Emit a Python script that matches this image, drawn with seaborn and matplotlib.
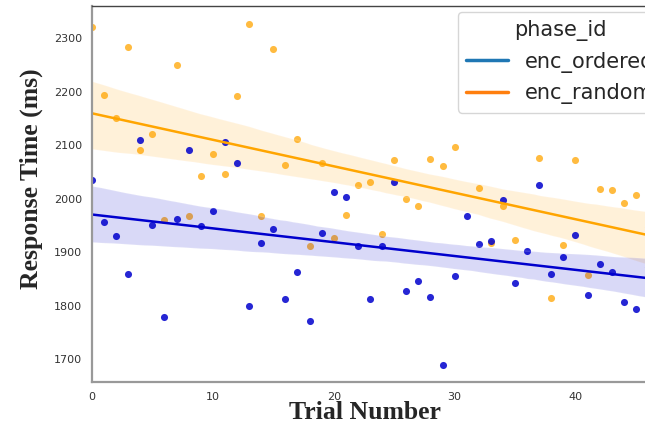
import numpy as np
import pandas as pd
import matplotlib
matplotlib.use('Agg')
import matplotlib.pyplot as plt
import seaborn as sns
from matplotlib.lines import Line2D

# trial numbers and response times
trials = list(range(47))
rt_ordered = [2035, 1957, 1930, 1859, 2109, 1951, 1779, 1962, 2091, 1950,
              1977, 2107, 2067, 1800, 1917, 1944, 1813, 1863, 1771, 1936,
              2013, 2003, 1911, 1813, 1912, 2032, 1827, 1846, 1816, 1689,
              1856, 1968, 1916, 1922, 1997, 1842, 1903, 2025, 1859, 1891,
              1932, 1821, 1879, 1864, 1808, 1795, 1872]
rt_random = [2320, 2193, 2150, 2284, 2091, 2121, 1960, 2250, 1967, 2043,
             2083, 2047, 2192, 2327, 1967, 2279, 2063, 2111, 1911, 2066,
             1926, 1970, 2025, 2031, 1935, 2073, 2000, 1986, 2074, 2062,
             2096, np.nan, 2021, 1918, 1986, 1923, np.nan, 2077, 1815, 1914,
             2073, 1857, 2019, 2016, 1993, 2008, 1948]
phases = ['enc_ordered', 'enc_random']

data = pd.DataFrame({
    'trial': trials * 2,
    'rt': rt_ordered + rt_random,
    'phase_id': [phases[0]] * len(trials) + [phases[1]] * len(trials),
})

sns.set_style('white')
fig = plt.figure(figsize=(6.45, 4.25), dpi=100)
ax = fig.add_axes([0.1426, 0.1012, 0.907, 0.8847])

# random first so the ordered band sits on top of it
sns.regplot(x='trial', y='rt', data=data[data['phase_id'] == 'enc_random'], ax=ax,
            color='orange', scatter_kws=dict(s=26, alpha=0.75, linewidths=0),
            line_kws=dict(lw=1.8), truncate=False)
sns.regplot(x='trial', y='rt', data=data[data['phase_id'] == 'enc_ordered'], ax=ax,
            color='mediumblue', scatter_kws=dict(s=26, alpha=0.85, linewidths=0),
            line_kws=dict(lw=1.8), truncate=False)

ax.set_xlim(0, 48.4)
ax.set_ylim(1658, 2360)
ax.set_xticks([0, 10, 20, 30, 40])
ax.set_yticks([1700, 1800, 1900, 2000, 2100, 2200, 2300])
ax.tick_params(labelsize=8, labelcolor='#333333', length=3.5, width=0.8, color='#555555', direction='out')

for side in ['left', 'bottom']:
    ax.spines[side].set_color('#999999')
    ax.spines[side].set_linewidth(1.6)
ax.spines['top'].set_color('#444444')
ax.spines['top'].set_linewidth(1.0)
ax.spines['right'].set_visible(False)

ax.set_xlabel('Trial Number', family='Liberation Serif', fontsize=18.5, fontweight='bold')
ax.set_ylabel('Response Time (ms)', family='Liberation Serif', fontsize=18.5, fontweight='bold')
ax.xaxis.set_label_coords(0.467, -0.05)
ax.yaxis.label.set_va('center')
ax.yaxis.set_label_coords(-0.103, 0.54)

handles = [Line2D([], [], color=c, lw=2.5) for c in ['tab:blue', 'tab:orange']]
leg = ax.legend(handles, phases, title='phase_id', fontsize=15, title_fontsize=15,
                loc='upper left', bbox_to_anchor=(458 / 645, 1 - 12 / 425),
                bbox_transform=fig.transFigure, borderaxespad=0, frameon=True)
leg.get_frame().set_edgecolor('#cccccc')

fig.savefig('out.png', dpi=100)
